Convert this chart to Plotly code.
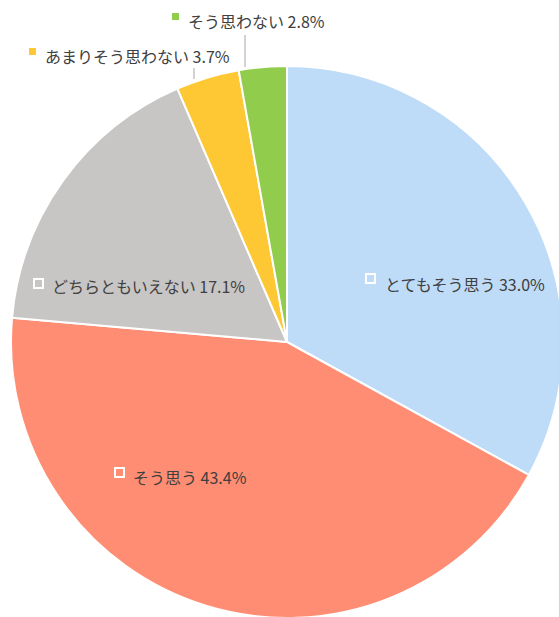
import plotly.graph_objects as go

# Data
categories = ["とてもそう思う", "そう思う", "どちらともいえない", "あまりそう思わない", "そう思わない"]
values = [33.0, 43.4, 17.1, 3.7, 2.8]
colors = ["#BEDCF8", "#FF8D73", "#C8C5C5", "#FDC834", "#91CC4D"]

# figure is slightly larger than the window so the pie can overflow the edges
W, H = 572, 626

def px(x):
    return x / W

def py(y):
    return 1 - y / H

# pie: center (287,342), radius 276 in screen pixels
cx, cy, r = 287, 342, 276
fig = go.Figure(go.Pie(
    labels=categories,
    values=values,
    sort=False,
    direction="clockwise",
    rotation=0,
    marker=dict(colors=colors, line=dict(color="white", width=2)),
    textinfo="none",
    hoverinfo="skip",
    showlegend=False,
    domain=dict(x=[px(cx - r), px(cx + r)], y=[py(cy + r), py(cy - r)]),
))

font = dict(family="Noto Sans CJK JP, Noto Sans, sans-serif", size=16, color="#404040")

placements = [
    (0, 383, 284, (366, 274, 375, 283), True),
    (1, 131, 477, (115, 468, 124, 477), True),
    (2, 50, 286, (34, 279, 43, 288), True),
    (3, 43, 56, (29, 48, 36, 55), False),
    (4, 186, 21, (172, 13, 179, 20), False),
]

annotations = []
shapes = []
for idx, tx, ty, sq, hollow in placements:
    annotations.append(dict(
        x=px(tx), y=py(ty), xref="paper", yref="paper",
        xanchor="left", yanchor="middle",
        text=f"{categories[idx]} {values[idx]:.1f}%",
        showarrow=False, font=font,
    ))
    x0, y0, x1, y1 = sq
    if hollow:
        shapes.append(dict(type="rect", xref="paper", yref="paper",
                           x0=px(x0), x1=px(x1), y0=py(y1), y1=py(y0),
                           line=dict(color="white", width=2), fillcolor="rgba(0,0,0,0)"))
    else:
        shapes.append(dict(type="rect", xref="paper", yref="paper",
                           x0=px(x0), x1=px(x1), y0=py(y1), y1=py(y0),
                           line=dict(width=0), fillcolor=colors[idx]))

for (x, y0, y1) in [(194, 68, 79), (245, 35, 67)]:
    shapes.append(dict(type="line", xref="paper", yref="paper",
                       x0=px(x), x1=px(x), y0=py(y0), y1=py(y1),
                       line=dict(color="#A6A6A6", width=1)))

fig.update_layout(
    width=W, height=H,
    margin=dict(l=0, r=0, t=0, b=0),
    paper_bgcolor="white",
    plot_bgcolor="white",
    annotations=annotations,
    shapes=shapes,
)

fig.write_html(
    "out.html",
    config={"displayModeBar": False},
    post_script="document.body.style.margin='0';document.body.style.overflow='hidden';"
                "document.documentElement.style.overflow='hidden';",
)
